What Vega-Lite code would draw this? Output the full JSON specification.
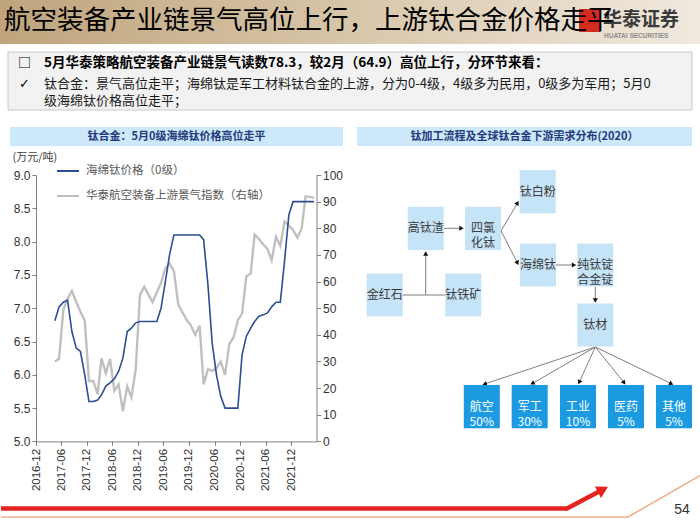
{
  "$schema": "https://vega.github.io/schema/vega-lite/v6.json",
  "padding": 0,
  "background": "white",
  "spacing": 0,
  "bounds": "flush",
  "config": {
    "view": {"stroke": null},
    "font": "Noto Sans CJK SC",
    "concat": {"spacing": 0}
  },
  "datasets": {
    "price": [
      {"date": "2017-04-15", "value": 6.81}, {"date": "2017-05-15", "value": 7.02}, {"date": "2017-06-15", "value": 7.09},
      {"date": "2017-07-15", "value": 7.12}, {"date": "2017-08-15", "value": 6.65}, {"date": "2017-09-15", "value": 6.4},
      {"date": "2017-10-15", "value": 6.35}, {"date": "2017-11-15", "value": 6.0}, {"date": "2017-12-15", "value": 5.6},
      {"date": "2018-01-15", "value": 5.6}, {"date": "2018-02-15", "value": 5.62}, {"date": "2018-03-15", "value": 5.7},
      {"date": "2018-04-15", "value": 5.83}, {"date": "2018-05-15", "value": 5.88}, {"date": "2018-06-15", "value": 5.94},
      {"date": "2018-07-15", "value": 6.05}, {"date": "2018-08-15", "value": 6.25}, {"date": "2018-09-15", "value": 6.65},
      {"date": "2018-10-15", "value": 6.7}, {"date": "2018-11-15", "value": 6.78}, {"date": "2018-12-15", "value": 6.8},
      {"date": "2019-01-15", "value": 6.8}, {"date": "2019-02-15", "value": 6.8}, {"date": "2019-03-15", "value": 6.8},
      {"date": "2019-04-15", "value": 6.8}, {"date": "2019-05-15", "value": 7.0}, {"date": "2019-06-15", "value": 7.4},
      {"date": "2019-07-15", "value": 7.8}, {"date": "2019-08-15", "value": 8.1}, {"date": "2019-09-15", "value": 8.1},
      {"date": "2019-10-15", "value": 8.1}, {"date": "2019-11-15", "value": 8.1}, {"date": "2019-12-15", "value": 8.1},
      {"date": "2020-01-15", "value": 8.1}, {"date": "2020-02-15", "value": 8.1}, {"date": "2020-03-15", "value": 8.03},
      {"date": "2020-04-15", "value": 7.35}, {"date": "2020-05-15", "value": 6.48}, {"date": "2020-06-15", "value": 6.0},
      {"date": "2020-07-15", "value": 5.68}, {"date": "2020-08-15", "value": 5.5}, {"date": "2020-09-15", "value": 5.5},
      {"date": "2020-10-15", "value": 5.5}, {"date": "2020-11-15", "value": 5.5}, {"date": "2020-12-15", "value": 6.3},
      {"date": "2021-01-15", "value": 6.58}, {"date": "2021-02-15", "value": 6.7}, {"date": "2021-03-15", "value": 6.8},
      {"date": "2021-04-15", "value": 6.88}, {"date": "2021-05-15", "value": 6.9}, {"date": "2021-06-15", "value": 6.93},
      {"date": "2021-07-15", "value": 7.02}, {"date": "2021-08-15", "value": 7.09}, {"date": "2021-09-15", "value": 7.09},
      {"date": "2021-10-15", "value": 7.7}, {"date": "2021-11-15", "value": 8.4}, {"date": "2021-12-15", "value": 8.6},
      {"date": "2022-01-15", "value": 8.6}, {"date": "2022-02-15", "value": 8.6}, {"date": "2022-03-15", "value": 8.6},
      {"date": "2022-04-15", "value": 8.6}, {"date": "2022-05-15", "value": 8.6}
    ],
    "index": [
      {"date": "2017-04-15", "value": 30}, {"date": "2017-05-15", "value": 31}, {"date": "2017-06-15", "value": 49.5},
      {"date": "2017-07-15", "value": 53.5}, {"date": "2017-08-15", "value": 56.5}, {"date": "2017-09-15", "value": 52.3},
      {"date": "2017-10-15", "value": 48.7}, {"date": "2017-11-15", "value": 45.4}, {"date": "2017-12-15", "value": 22.7},
      {"date": "2018-01-15", "value": 22.7}, {"date": "2018-02-15", "value": 17.7}, {"date": "2018-03-15", "value": 31.2},
      {"date": "2018-04-15", "value": 25.6}, {"date": "2018-05-15", "value": 31}, {"date": "2018-06-15", "value": 19},
      {"date": "2018-07-15", "value": 21.4}, {"date": "2018-08-15", "value": 11.3}, {"date": "2018-09-15", "value": 20.6},
      {"date": "2018-10-15", "value": 16.5}, {"date": "2018-11-15", "value": 27.1}, {"date": "2018-12-15", "value": 55},
      {"date": "2019-01-15", "value": 58}, {"date": "2019-02-15", "value": 55}, {"date": "2019-03-15", "value": 52.3},
      {"date": "2019-04-15", "value": 56}, {"date": "2019-05-15", "value": 59.5}, {"date": "2019-06-15", "value": 65},
      {"date": "2019-07-15", "value": 66.8}, {"date": "2019-08-15", "value": 64}, {"date": "2019-09-15", "value": 51.5},
      {"date": "2019-10-15", "value": 48.5}, {"date": "2019-11-15", "value": 45.5}, {"date": "2019-12-15", "value": 43.5},
      {"date": "2020-01-15", "value": 40}, {"date": "2020-02-15", "value": 43.5}, {"date": "2020-03-15", "value": 21.4},
      {"date": "2020-04-15", "value": 27.1}, {"date": "2020-05-15", "value": 26.5}, {"date": "2020-06-15", "value": 27.5},
      {"date": "2020-07-15", "value": 30}, {"date": "2020-08-15", "value": 25}, {"date": "2020-09-15", "value": 36.5},
      {"date": "2020-10-15", "value": 39}, {"date": "2020-11-15", "value": 45.5}, {"date": "2020-12-15", "value": 48},
      {"date": "2021-01-15", "value": 62}, {"date": "2021-02-15", "value": 63}, {"date": "2021-03-15", "value": 77.7},
      {"date": "2021-04-15", "value": 76}, {"date": "2021-05-15", "value": 74}, {"date": "2021-06-15", "value": 72.3},
      {"date": "2021-07-15", "value": 68}, {"date": "2021-08-15", "value": 76.8}, {"date": "2021-09-15", "value": 73.4},
      {"date": "2021-10-15", "value": 82.5}, {"date": "2021-11-15", "value": 81}, {"date": "2021-12-15", "value": 79.4},
      {"date": "2022-01-15", "value": 76.5}, {"date": "2022-02-15", "value": 80}, {"date": "2022-03-15", "value": 92},
      {"date": "2022-04-15", "value": 91.8}, {"date": "2022-05-15", "value": 91.3}
    ],
    "nodes": [
      {"label": "金红石", "cx": 26.7, "cy": 120, "kind": "流程"},
      {"label": "高钛渣", "cx": 67.7, "cy": 53.3, "kind": "流程"},
      {"label": "钛铁矿", "cx": 105.2, "cy": 120, "kind": "流程"},
      {"label": "四氯\n化钛", "cx": 125, "cy": 53.3, "kind": "流程"},
      {"label": "钛白粉", "cx": 179.7, "cy": 16.7, "kind": "流程"},
      {"label": "海绵钛", "cx": 180, "cy": 90, "kind": "流程"},
      {"label": "纯钛锭\n合金锭", "cx": 237.3, "cy": 90, "kind": "流程"},
      {"label": "钛材", "cx": 237.3, "cy": 150, "kind": "流程"},
      {"label": "航空\n50%", "cx": 123.8, "cy": 231.7, "kind": "需求"},
      {"label": "军工\n30%", "cx": 171.7, "cy": 231.7, "kind": "需求"},
      {"label": "工业\n10%", "cx": 220, "cy": 231.7, "kind": "需求"},
      {"label": "医药\n5%", "cx": 268, "cy": 231.7, "kind": "需求"},
      {"label": "其他\n5%", "cx": 316, "cy": 231.7, "kind": "需求"}
    ],
    "edges": [
      {"x1": 44.7, "y1": 120, "x2": 87.3, "y2": 120, "head": false, "ang": 0},
      {"x1": 67.7, "y1": 120, "x2": 67.7, "y2": 78.5, "head": true, "ang": 0},
      {"x1": 85.7, "y1": 53.3, "x2": 103.5, "y2": 53.3, "head": true, "ang": 90},
      {"x1": 143, "y1": 56, "x2": 159.5, "y2": 28, "head": true, "ang": 30.5},
      {"x1": 143, "y1": 56, "x2": 159.5, "y2": 88, "head": true, "ang": 152.7},
      {"x1": 198, "y1": 90, "x2": 216, "y2": 90, "head": true, "ang": 90},
      {"x1": 237.3, "y1": 111.7, "x2": 237.3, "y2": 125.5, "head": true, "ang": 180},
      {"x1": 237.3, "y1": 172, "x2": 126.6, "y2": 209, "head": true, "ang": 251.5},
      {"x1": 237.3, "y1": 172, "x2": 174.3, "y2": 208.5, "head": true, "ang": 239.9},
      {"x1": 237.3, "y1": 172, "x2": 221.2, "y2": 207.3, "head": true, "ang": 204.5},
      {"x1": 237.3, "y1": 172, "x2": 266.1, "y2": 207.7, "head": true, "ang": 141.1},
      {"x1": 237.3, "y1": 172, "x2": 313.3, "y2": 208.7, "head": true, "ang": 115.8}
    ],
    "bands": [
      {"part": "red", "x1": -357, "x2": 209, "y1": 331.3, "y2": 335.7},
      {"part": "orange", "x1": -357, "x2": 270, "y1": 341.2, "y2": 342.8}
    ],
    "diag": [
      {"part": "red", "x1": 209, "y1": 333.5, "x2": 245, "y2": 314.5},
      {"part": "orange", "x1": 270, "y1": 342, "x2": 343, "y2": 300}
    ]
  },
  "vconcat": [
    {
      "width": 700,
      "height": 44,
      "layer": [
        {
          "data": {"values": [{}]},
          "mark": {"type": "rect", "fill": {"x1": 0, "y1": 0, "x2": 1, "y2": 0, "gradient": "linear", "stops": [{"offset": 0, "color": "#bfa47c"}, {"offset": 0.5, "color": "#d8c6a9"}, {"offset": 1, "color": "#f0e9de"}]}},
          "encoding": {"x": {"value": 0}, "x2": {"value": 700}, "y": {"value": 0}, "y2": {"value": 44}}
        },
        {
          "data": {"values": [{}]},
          "mark": {"type": "rect", "fill": "#d52b1e"},
          "encoding": {"x": {"value": 579}, "x2": {"value": 600}, "y": {"value": 9}, "y2": {"value": 32}}
        },
        {
          "data": {"values": [{"t": "华泰证券"}]},
          "mark": {"type": "text", "align": "left", "baseline": "middle", "fontSize": 19, "fontWeight": "bold", "fill": "#3a3a3a"},
          "encoding": {"text": {"field": "t"}, "x": {"value": 603}, "y": {"value": 20}}
        },
        {
          "data": {"values": [{"t": "HUATAI SECURITIES"}]},
          "mark": {"type": "text", "align": "left", "baseline": "middle", "fontSize": 6.5, "font": "Liberation Sans", "fontWeight": "bold", "fill": "#8c8c8c"},
          "encoding": {"text": {"field": "t"}, "x": {"value": 604}, "y": {"value": 36}}
        },
        {
          "data": {"values": [{"t": "航空装备产业链景气高位上行，上游钛合金价格走平"}]},
          "mark": {"type": "text", "align": "left", "baseline": "middle", "fontSize": 26.5, "fill": "#000000"},
          "encoding": {"text": {"field": "t"}, "x": {"value": 4}, "y": {"value": 21}}
        }
      ]
    },
    {
      "width": 700,
      "height": 83,
      "layer": [
        {
          "data": {"values": [{}]},
          "mark": {"type": "rect", "fill": "#f2f2f2", "stroke": "#c8c8c8", "strokeWidth": 1},
          "encoding": {"x": {"value": 8}, "x2": {"value": 692}, "y": {"value": 8}, "y2": {"value": 66}}
        },
        {
          "data": {"values": [{"t": "□"}]},
          "mark": {"type": "text", "align": "left", "baseline": "middle", "fontSize": 13, "fontWeight": "bold", "fill": "#000000"},
          "encoding": {"text": {"field": "t"}, "x": {"value": 18}, "y": {"value": 19}}
        },
        {
          "data": {"values": [{"t": "✓"}]},
          "mark": {"type": "text", "align": "left", "baseline": "middle", "fontSize": 13, "font": "DejaVu Sans", "fill": "#000000"},
          "encoding": {"text": {"field": "t"}, "x": {"value": 19}, "y": {"value": 40}}
        },
        {
          "data": {"values": [{"t": "5月华泰策略航空装备产业链景气读数78.3，较2月（64.9）高位上行，分环节来看："}]},
          "mark": {"type": "text", "align": "left", "baseline": "middle", "fontSize": 13.5, "fontWeight": "bold", "fill": "#000000"},
          "encoding": {"text": {"field": "t"}, "x": {"value": 44}, "y": {"value": 19}}
        },
        {
          "data": {"values": [{"t": "钛合金：景气高位走平；海绵钛是军工材料钛合金的上游，分为0-4级，4级多为民用，0级多为军用；5月0\n级海绵钛价格高位走平；"}]},
          "mark": {"type": "text", "align": "left", "baseline": "middle", "fontSize": 13, "lineBreak": "\n", "lineHeight": 17, "fill": "#1a1a1a"},
          "encoding": {"text": {"field": "t"}, "x": {"value": 44}, "y": {"value": 40}}
        }
      ]
    },
    {
      "width": 700,
      "height": 48,
      "layer": [
        {
          "data": {"values": [{}]},
          "mark": {"type": "rect", "fill": "#cde7fb"},
          "encoding": {"x": {"value": 10}, "x2": {"value": 343}, "y": {"value": 0}, "y2": {"value": 19}}
        },
        {
          "data": {"values": [{}]},
          "mark": {"type": "rect", "fill": "#cde7fb"},
          "encoding": {"x": {"value": 357}, "x2": {"value": 692}, "y": {"value": 0}, "y2": {"value": 19}}
        },
        {
          "data": {"values": [{"t": "钛合金：5月0级海绵钛价格高位走平"}]},
          "mark": {"type": "text", "align": "center", "baseline": "middle", "fontSize": 11, "fontWeight": "bold", "fill": "#1f3b7a"},
          "encoding": {"text": {"field": "t"}, "x": {"value": 176.5}, "y": {"value": 10}}
        },
        {
          "data": {"values": [{"t": "钛加工流程及全球钛合金下游需求分布(2020）"}]},
          "mark": {"type": "text", "align": "center", "baseline": "middle", "fontSize": 11, "fontWeight": "bold", "fill": "#1f3b7a"},
          "encoding": {"text": {"field": "t"}, "x": {"value": 524.5}, "y": {"value": 10}}
        }
      ]
    },
    {
      "bounds": "flush",
      "spacing": 0,
      "hconcat": [
        {
          "width": 36,
          "height": 266.4,
          "data": {"values": [{}]},
          "mark": {"type": "text", "text": ""}
        },
        {
          "width": 280.5,
          "height": 266.4,
          "encoding": {
            "x": {
              "field": "date", "type": "temporal",
              "scale": {"type": "utc", "nice": false, "domain": [1480550400000, 1654041600000]},
              "axis": {
                "title": null, "labelExpr": "utcFormat(datum.value, '%Y-%m')", "labelAngle": -90, "labelOverlap": false,
                "labelSeparation": 0, "labelBound": false, "labelFlush": false, "tickCount": 11,
                "values": [1480550400000, 1496275200000, 1512086400000, 1527811200000, 1543622400000, 1559347200000, 1575158400000, 1590969600000, 1606780800000, 1622505600000, 1638316800000],
                "grid": false, "labelFont": "Liberation Sans", "labelFontSize": 11.5, "labelColor": "#333333",
                "domainColor": "#808080", "tickColor": "#808080", "tickSize": 4, "labelPadding": 3
              }
            }
          },
          "layer": [
            {
              "data": {"name": "index"},
              "mark": {"type": "line", "strokeWidth": 2.4},
              "encoding": {
                "y": {
                  "field": "value", "type": "quantitative",
                  "scale": {"domain": [0, 100], "nice": false},
                  "axis": {
                    "orient": "right", "title": null, "values": [0, 10, 20, 30, 40, 50, 60, 70, 80, 90, 100],
                    "grid": false, "labelFont": "Liberation Sans", "labelFontSize": 12, "labelColor": "#333333",
                    "domainColor": "#808080", "tickColor": "#808080", "tickSize": 4, "labelPadding": 2
                  }
                },
                "color": {
                  "datum": "华泰航空装备上游景气指数（右轴）", "type": "nominal",
                  "scale": {"domain": ["海绵钛价格（0级）", "华泰航空装备上游景气指数（右轴）"], "range": ["#2b4f91", "#c0c0c0"]},
                  "legend": {
                    "orient": "none", "legendX": 56, "legendY": 159, "title": null, "padding": 0,
                    "symbolType": "stroke", "symbolSize": 480, "symbolStrokeWidth": 2,
                    "labelFont": "Noto Sans CJK SC", "labelFontSize": 11.5, "labelColor": "#595959",
                    "labelOffset": 6, "rowPadding": 7, "labelLimit": 400
                  }
                }
              }
            },
            {
              "data": {"name": "price"},
              "mark": {"type": "line", "strokeWidth": 1.6},
              "encoding": {
                "y": {
                  "field": "value", "type": "quantitative",
                  "scale": {"domain": [5, 9], "nice": false, "zero": false},
                  "axis": {
                    "orient": "left", "values": [5, 5.5, 6, 6.5, 7, 7.5, 8, 8.5, 9], "format": ".1f",
                    "title": "(万元/吨)", "titleAngle": 0, "titleAlign": "left", "titleBaseline": "middle",
                    "titleX": -24, "titleY": -18, "titleFont": "Noto Sans CJK SC", "titleFontSize": 11,
                    "titleFontWeight": "normal", "titleColor": "#404040",
                    "grid": false, "labelFont": "Liberation Sans", "labelFontSize": 12, "labelColor": "#333333",
                    "domainColor": "#808080", "tickColor": "#808080", "tickSize": 4, "labelPadding": 2
                  }
                },
                "color": {"datum": "海绵钛价格（0级）", "type": "nominal"}
              }
            }
          ],
          "resolve": {"scale": {"y": "independent"}}
        },
        {
          "width": 40.5,
          "height": 266.4,
          "data": {"values": [{}]},
          "mark": {"type": "text", "text": ""}
        },
        {
          "width": 335,
          "height": 266.5,
          "layer": [
            {
              "data": {"name": "edges"},
              "mark": {"type": "rule", "color": "#7f7f7f", "strokeWidth": 1},
              "encoding": {
                "x": {"field": "x1", "type": "quantitative", "scale": {"domain": [0, 335], "nice": false, "zero": false}, "axis": null},
                "y": {"field": "y1", "type": "quantitative", "scale": {"domain": [0, 266.5], "nice": false, "zero": false, "reverse": true}, "axis": null},
                "x2": {"field": "x2"},
                "y2": {"field": "y2"}
              }
            },
            {
              "data": {"name": "edges"},
              "transform": [{"filter": "datum.head"}],
              "mark": {"type": "point", "shape": "triangle-up", "filled": true, "size": 26, "color": "#111111", "opacity": 1},
              "encoding": {
                "x": {"field": "x2", "type": "quantitative", "scale": {"domain": [0, 335], "nice": false, "zero": false}},
                "y": {"field": "y2", "type": "quantitative", "scale": {"domain": [0, 266.5], "nice": false, "zero": false, "reverse": true}},
                "angle": {"field": "ang", "type": "quantitative", "scale": null}
              }
            },
            {
              "data": {"name": "nodes"},
              "mark": {"type": "point", "shape": "M-1,-1.2H1V1.2H-1Z", "filled": true, "size": 1296, "opacity": 1, "strokeWidth": 0},
              "encoding": {
                "x": {"field": "cx", "type": "quantitative", "scale": {"domain": [0, 335], "nice": false, "zero": false}},
                "y": {"field": "cy", "type": "quantitative", "scale": {"domain": [0, 266.5], "nice": false, "zero": false, "reverse": true}},
                "color": {"field": "kind", "type": "nominal", "scale": {"domain": ["流程", "需求"], "range": ["#c6e4f8", "#1a9be1"]}, "legend": null}
              }
            },
            {
              "data": {"name": "nodes"},
              "mark": {"type": "text", "baseline": "middle", "align": "center", "fontSize": 12, "lineBreak": "\n", "lineHeight": 15},
              "encoding": {
                "x": {"field": "cx", "type": "quantitative", "scale": {"domain": [0, 335], "nice": false, "zero": false}},
                "y": {"field": "cy", "type": "quantitative", "scale": {"domain": [0, 266.5], "nice": false, "zero": false, "reverse": true}},
                "text": {"field": "label"},
                "color": {"field": "kind", "type": "nominal", "scale": {"domain": ["流程", "需求"], "range": ["#3a3a3a", "#ffffff"]}, "legend": null}
              }
            },
            {
              "data": {"name": "bands"},
              "mark": {"type": "rect"},
              "encoding": {
                "x": {"field": "x1", "type": "quantitative", "scale": {"domain": [0, 335], "nice": false, "zero": false}},
                "x2": {"field": "x2"},
                "y": {"field": "y1", "type": "quantitative", "scale": {"domain": [0, 266.5], "nice": false, "zero": false, "reverse": true}},
                "y2": {"field": "y2"},
                "fill": {"field": "part", "type": "nominal", "scale": {"domain": ["red", "orange"], "range": ["#e42320", "#f2b08c"]}, "legend": null}
              }
            },
            {
              "data": {"name": "diag"},
              "transform": [{"filter": "datum.part === 'orange'"}],
              "mark": {"type": "rule", "strokeWidth": 1.6, "color": "#f2b08c", "strokeCap": "round"},
              "encoding": {
                "x": {"field": "x1", "type": "quantitative", "scale": {"domain": [0, 335], "nice": false, "zero": false}},
                "y": {"field": "y1", "type": "quantitative", "scale": {"domain": [0, 266.5], "nice": false, "zero": false, "reverse": true}},
                "x2": {"field": "x2"},
                "y2": {"field": "y2"}
              }
            },
            {
              "data": {"name": "diag"},
              "transform": [{"filter": "datum.part === 'red'"}],
              "mark": {"type": "rule", "strokeWidth": 4.5, "color": "#e42320", "strokeCap": "round"},
              "encoding": {
                "x": {"field": "x1", "type": "quantitative", "scale": {"domain": [0, 335], "nice": false, "zero": false}},
                "y": {"field": "y1", "type": "quantitative", "scale": {"domain": [0, 266.5], "nice": false, "zero": false, "reverse": true}},
                "x2": {"field": "x2"},
                "y2": {"field": "y2"}
              }
            },
            {
              "data": {"name": "diag"},
              "transform": [{"filter": "datum.part === 'red'"}],
              "mark": {"type": "point", "shape": "triangle-up", "filled": true, "size": 170, "color": "#e42320", "opacity": 1, "angle": 62},
              "encoding": {
                "x": {"field": "x2", "type": "quantitative", "scale": {"domain": [0, 335], "nice": false, "zero": false}},
                "y": {"field": "y2", "type": "quantitative", "scale": {"domain": [0, 266.5], "nice": false, "zero": false, "reverse": true}}
              }
            },
            {
              "data": {"values": [{"t": "54", "px": 324, "py": 335}]},
              "mark": {"type": "text", "align": "center", "baseline": "middle", "fontSize": 14, "font": "Liberation Sans", "fill": "#333333"},
              "encoding": {
                "text": {"field": "t"},
                "x": {"field": "px", "type": "quantitative", "scale": {"domain": [0, 335], "nice": false, "zero": false}},
                "y": {"field": "py", "type": "quantitative", "scale": {"domain": [0, 266.5], "nice": false, "zero": false, "reverse": true}}
              }
            }
          ],
          "resolve": {"scale": {"color": "independent", "fill": "independent"}}
        }
      ]
    }
  ]
}
